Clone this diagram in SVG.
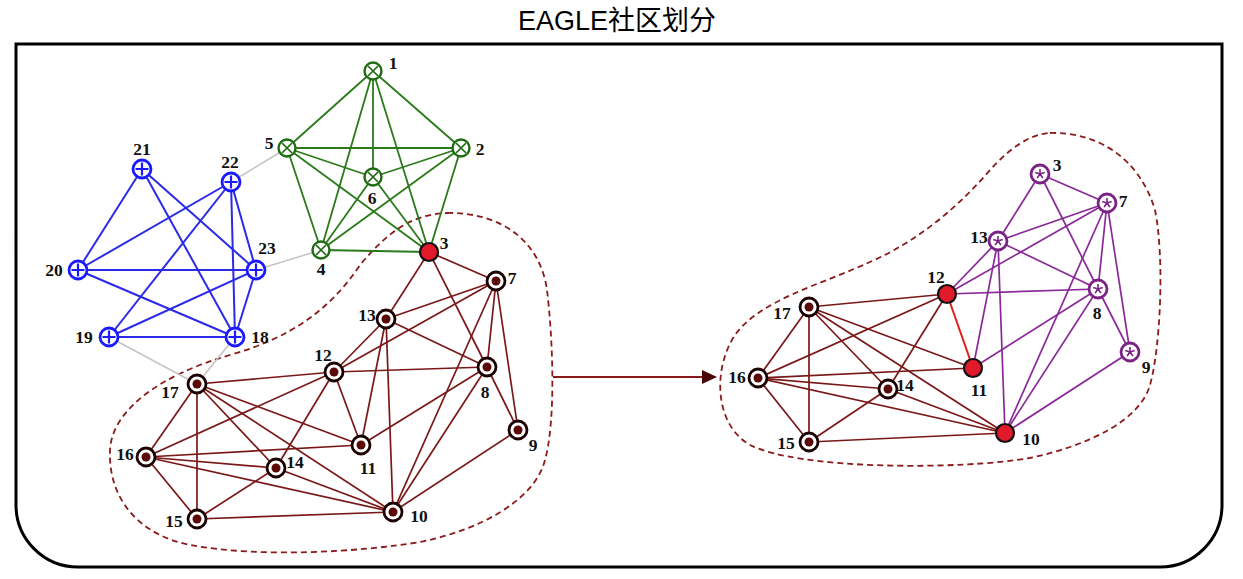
<svg xmlns="http://www.w3.org/2000/svg" xmlns:xlink="http://www.w3.org/1999/xlink" width="1243" height="579" viewBox="0 0 1243 579">
<style>
.title{font-family:"Liberation Sans","Noto Sans CJK SC",sans-serif;font-size:27px;fill:#000}
.lbl{font-family:"Liberation Serif","DejaVu Serif",serif;font-size:17.5px;font-weight:bold;fill:#111;text-anchor:middle}
.eg line{stroke:#2a7a1a;stroke-width:1.8}
.eb line{stroke:#2a2ae8;stroke-width:2}
.ey line{stroke:#c4c4c4;stroke-width:1.5}
.er line{stroke:#7a1818;stroke-width:1.7}
.ep line{stroke:#8a2a98;stroke-width:1.7}
.ex line{stroke:#e51a1a;stroke-width:2}
.blob{fill:none;stroke:#8b1a1a;stroke-width:1.8;stroke-dasharray:6 4}
</style>
<defs>
<marker id="ah" markerWidth="16" markerHeight="16" refX="1" refY="7" orient="auto" markerUnits="userSpaceOnUse">
<polygon points="0,0 15,7 0,14" fill="#4a0505"/>
</marker>
<g id="nBrown"><circle r="9" fill="#fff" stroke="#1a0000" stroke-width="2.8"/><circle r="4.5" fill="#5a0808"/></g>
<g id="nRed"><circle r="9" fill="#e0192b" stroke="#111" stroke-width="2.2"/></g>
<g id="nBlue"><circle r="9" fill="#fff" stroke="#1a1aff" stroke-width="2.8"/><path d="M-6.5,0H6.5M0,-6.5V6.5" stroke="#1a1aff" stroke-width="2.2"/></g>
<g id="nGreen"><circle r="8.5" fill="#fff" stroke="#1f6b12" stroke-width="2.4"/><path d="M-5,-5L5,5M5,-5L-5,5" stroke="#1f6b12" stroke-width="1.7"/></g>
<g id="nPurple"><circle r="9" fill="#fff" stroke="#7b2286" stroke-width="2.8"/><path d="M0,0V-5M0,0L4.7,-1.5M0,0L2.9,4M0,0L-2.9,4M0,0L-4.7,-1.5" stroke="#7b2286" stroke-width="1.6"/></g>
</defs>
<rect width="1243" height="579" fill="#fff"/>
<text class="title" x="617" y="30" text-anchor="middle">EAGLE社区划分</text>
<path d="M16,44 H1222 V505 A62,62 0 0 1 1160,567 H78 A62,62 0 0 1 16,505 Z" fill="none" stroke="#000" stroke-width="3"/>
<g id="blobs">
<path class="blob" d="M447,213 C500,212 540,240 547,290 C553,340 556,420 545,460 C535,500 480,530 420,542 C360,552 260,558 190,545 C140,535 108,500 110,450 C112,410 160,375 230,355 C290,338 330,310 360,265 C385,235 410,214 447,213 Z"/>
<path class="blob" d="M1050,133 C1100,132 1140,160 1155,210 C1165,260 1160,350 1150,385 C1140,420 1090,445 1030,458 C960,470 800,470 750,445 C715,425 712,370 735,335 C760,300 820,285 870,262 C920,240 960,205 990,170 C1010,148 1030,134 1050,133 Z"/>
</g>
<g id="connectors">
<g class="ey">
<line x1="231" y1="182" x2="287" y2="148"/><line x1="256" y1="270" x2="321" y2="250"/><line x1="109" y1="337" x2="197" y2="384"/><line x1="235" y1="337" x2="197" y2="384"/>
</g>
<g class="eg">
<line x1="373" y1="71" x2="461" y2="148"/><line x1="373" y1="71" x2="287" y2="148"/><line x1="373" y1="71" x2="373" y2="177"/><line x1="373" y1="71" x2="321" y2="250"/><line x1="373" y1="71" x2="429" y2="252"/>
<line x1="461" y1="148" x2="287" y2="148"/><line x1="461" y1="148" x2="373" y2="177"/><line x1="461" y1="148" x2="321" y2="250"/><line x1="461" y1="148" x2="429" y2="252"/>
<line x1="287" y1="148" x2="373" y2="177"/><line x1="287" y1="148" x2="321" y2="250"/><line x1="287" y1="148" x2="429" y2="252"/>
<line x1="373" y1="177" x2="321" y2="250"/><line x1="373" y1="177" x2="429" y2="252"/><line x1="321" y1="250" x2="429" y2="252"/>
</g>
<g class="eb">
<line x1="142" y1="169" x2="78" y2="270"/><line x1="142" y1="169" x2="256" y2="270"/><line x1="142" y1="169" x2="235" y2="337"/>
<line x1="231" y1="182" x2="78" y2="270"/><line x1="231" y1="182" x2="109" y2="337"/><line x1="231" y1="182" x2="235" y2="337"/><line x1="231" y1="182" x2="256" y2="270"/>
<line x1="78" y1="270" x2="256" y2="270"/><line x1="78" y1="270" x2="235" y2="337"/><line x1="109" y1="337" x2="256" y2="270"/><line x1="109" y1="337" x2="235" y2="337"/><line x1="256" y1="270" x2="235" y2="337"/>
</g>
<g class="er">
<line x1="429" y1="252" x2="496" y2="281"/><line x1="429" y1="252" x2="386" y2="319"/><line x1="429" y1="252" x2="487" y2="367"/>
<line x1="496" y1="281" x2="386" y2="319"/><line x1="496" y1="281" x2="334" y2="372"/><line x1="496" y1="281" x2="487" y2="367"/><line x1="496" y1="281" x2="518" y2="430"/><line x1="496" y1="281" x2="393" y2="512"/>
<line x1="386" y1="319" x2="334" y2="372"/><line x1="386" y1="319" x2="487" y2="367"/><line x1="386" y1="319" x2="361" y2="445"/><line x1="386" y1="319" x2="393" y2="512"/>
<line x1="334" y1="372" x2="197" y2="384"/><line x1="334" y1="372" x2="487" y2="367"/><line x1="334" y1="372" x2="146" y2="457"/><line x1="334" y1="372" x2="361" y2="445"/><line x1="334" y1="372" x2="276" y2="468"/>
<line x1="487" y1="367" x2="361" y2="445"/><line x1="487" y1="367" x2="518" y2="430"/><line x1="487" y1="367" x2="393" y2="512"/>
<line x1="197" y1="384" x2="146" y2="457"/><line x1="197" y1="384" x2="197" y2="519"/><line x1="197" y1="384" x2="276" y2="468"/><line x1="197" y1="384" x2="361" y2="445"/><line x1="197" y1="384" x2="393" y2="512"/>
<line x1="146" y1="457" x2="361" y2="445"/><line x1="146" y1="457" x2="276" y2="468"/><line x1="146" y1="457" x2="393" y2="512"/><line x1="146" y1="457" x2="197" y2="519"/>
<line x1="276" y1="468" x2="197" y2="519"/><line x1="276" y1="468" x2="393" y2="512"/><line x1="197" y1="519" x2="393" y2="512"/><line x1="518" y1="430" x2="393" y2="512"/>
</g>
<g class="ep">
<line x1="1040" y1="174" x2="1107" y2="203"/><line x1="1040" y1="174" x2="998" y2="241"/><line x1="1040" y1="174" x2="1098" y2="289"/>
<line x1="1107" y1="203" x2="998" y2="241"/><line x1="1107" y1="203" x2="947" y2="294"/><line x1="1107" y1="203" x2="1098" y2="289"/><line x1="1107" y1="203" x2="1130" y2="352"/><line x1="1107" y1="203" x2="1005" y2="433"/>
<line x1="998" y1="241" x2="947" y2="294"/><line x1="998" y1="241" x2="1098" y2="289"/><line x1="998" y1="241" x2="973" y2="368"/><line x1="998" y1="241" x2="1005" y2="433"/>
<line x1="947" y1="294" x2="1098" y2="289"/><line x1="1098" y1="289" x2="973" y2="368"/><line x1="1098" y1="289" x2="1130" y2="352"/><line x1="1098" y1="289" x2="1005" y2="433"/><line x1="1130" y1="352" x2="1005" y2="433"/>
</g>
<g class="ex"><line x1="947" y1="294" x2="973" y2="368"/></g>
<g class="er">
<line x1="809" y1="307" x2="947" y2="294"/><line x1="758" y1="378" x2="947" y2="294"/><line x1="888" y1="389" x2="947" y2="294"/>
<line x1="809" y1="307" x2="758" y2="378"/><line x1="809" y1="307" x2="809" y2="442"/><line x1="809" y1="307" x2="888" y2="389"/><line x1="809" y1="307" x2="973" y2="368"/><line x1="809" y1="307" x2="1005" y2="433"/>
<line x1="758" y1="378" x2="973" y2="368"/><line x1="758" y1="378" x2="888" y2="389"/><line x1="758" y1="378" x2="1005" y2="433"/><line x1="758" y1="378" x2="809" y2="442"/>
<line x1="888" y1="389" x2="809" y2="442"/><line x1="888" y1="389" x2="1005" y2="433"/><line x1="809" y1="442" x2="1005" y2="433"/>
</g>
<line id="arrow" x1="553" y1="377" x2="703" y2="377" stroke="#8b1a1a" stroke-width="2" marker-end="url(#ah)"/>
</g>
<g id="nodes">
<g id="b21"><use href="#nBlue" x="142" y="169"/><text class="lbl" x="142" y="155">21</text></g>
<g id="b22"><use href="#nBlue" x="231" y="182"/><text class="lbl" x="230" y="168">22</text></g>
<g id="b23"><use href="#nBlue" x="256" y="270"/><text class="lbl" x="267" y="254">23</text></g>
<g id="b20"><use href="#nBlue" x="78" y="270"/><text class="lbl" x="54" y="276">20</text></g>
<g id="b19"><use href="#nBlue" x="109" y="337"/><text class="lbl" x="84" y="343">19</text></g>
<g id="b18"><use href="#nBlue" x="235" y="337"/><text class="lbl" x="260" y="343">18</text></g>
<g id="g1"><use href="#nGreen" x="373" y="71"/><text class="lbl" x="393" y="69">1</text></g>
<g id="g2"><use href="#nGreen" x="461" y="148"/><text class="lbl" x="480" y="155">2</text></g>
<g id="g5"><use href="#nGreen" x="287" y="148"/><text class="lbl" x="269" y="149">5</text></g>
<g id="g6"><use href="#nGreen" x="373" y="177"/><text class="lbl" x="372" y="204">6</text></g>
<g id="g4"><use href="#nGreen" x="321" y="250"/><text class="lbl" x="321" y="275">4</text></g>
<g id="L3"><use href="#nRed" x="429" y="252"/><text class="lbl" x="444" y="249">3</text></g>
<g id="L7"><use href="#nBrown" x="496" y="281"/><text class="lbl" x="512" y="284">7</text></g>
<g id="L13"><use href="#nBrown" x="386" y="319"/><text class="lbl" x="367" y="321">13</text></g>
<g id="L12"><use href="#nBrown" x="334" y="372"/><text class="lbl" x="323" y="361">12</text></g>
<g id="L8"><use href="#nBrown" x="487" y="367"/><text class="lbl" x="485" y="398">8</text></g>
<g id="L17"><use href="#nBrown" x="197" y="384"/><text class="lbl" x="170" y="398">17</text></g>
<g id="L16"><use href="#nBrown" x="146" y="457"/><text class="lbl" x="125" y="460">16</text></g>
<g id="L14"><use href="#nBrown" x="276" y="468"/><text class="lbl" x="295" y="468">14</text></g>
<g id="L11"><use href="#nBrown" x="361" y="445"/><text class="lbl" x="368" y="474">11</text></g>
<g id="L9"><use href="#nBrown" x="518" y="430"/><text class="lbl" x="533" y="451">9</text></g>
<g id="L15"><use href="#nBrown" x="197" y="519"/><text class="lbl" x="174" y="527">15</text></g>
<g id="L10"><use href="#nBrown" x="393" y="512"/><text class="lbl" x="419" y="522">10</text></g>
<g id="R3"><use href="#nPurple" x="1040" y="174"/><text class="lbl" x="1057" y="171">3</text></g>
<g id="R7"><use href="#nPurple" x="1107" y="203"/><text class="lbl" x="1123" y="207">7</text></g>
<g id="R13"><use href="#nPurple" x="998" y="241"/><text class="lbl" x="979" y="243">13</text></g>
<g id="R8"><use href="#nPurple" x="1098" y="289"/><text class="lbl" x="1097" y="319">8</text></g>
<g id="R9"><use href="#nPurple" x="1130" y="352"/><text class="lbl" x="1146" y="373">9</text></g>
<g id="R12"><use href="#nRed" x="947" y="294"/><text class="lbl" x="936" y="283">12</text></g>
<g id="R11"><use href="#nRed" x="973" y="368"/><text class="lbl" x="979" y="396">11</text></g>
<g id="R10"><use href="#nRed" x="1005" y="433"/><text class="lbl" x="1031" y="445">10</text></g>
<g id="R17"><use href="#nBrown" x="809" y="307"/><text class="lbl" x="782" y="319">17</text></g>
<g id="R16"><use href="#nBrown" x="758" y="378"/><text class="lbl" x="737" y="383">16</text></g>
<g id="R14"><use href="#nBrown" x="888" y="389"/><text class="lbl" x="905" y="391">14</text></g>
<g id="R15"><use href="#nBrown" x="809" y="442"/><text class="lbl" x="786" y="449">15</text></g>
</g>
</svg>
